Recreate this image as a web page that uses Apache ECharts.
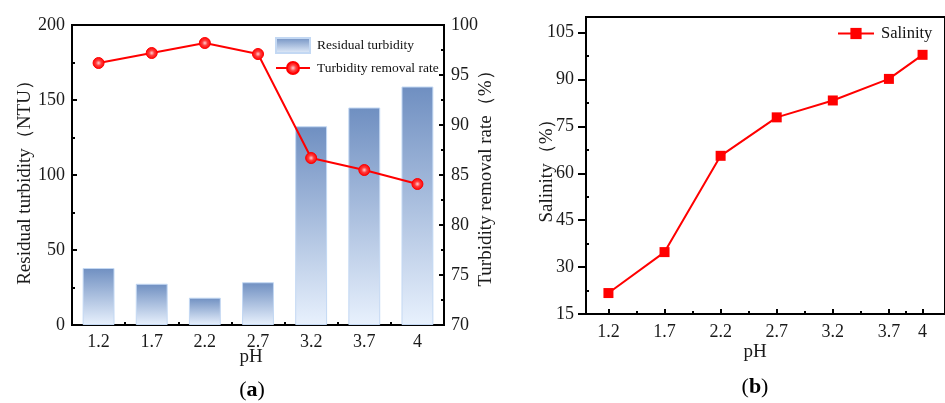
<!DOCTYPE html>
<html>
<head>
<meta charset="utf-8">
<script src="https://cdn.jsdelivr.net/npm/echarts@6/dist/echarts.min.js"></script>
<style>
html,body{margin:0;padding:0;background:#fff;}
#c{width:945px;height:403px;}
</style>
</head>
<body>
<div id="c"></div>
<script>
// ---- data ----
const phCategories = ['1.2', '1.7', '2.2', '2.7', '3.2', '3.7', '4'];
const residualTurbidity = [38, 27.5, 18.2, 28.5, 132.5, 145, 159];
const removalRate = [96.2, 97.2, 98.2, 97.1, 86.7, 85.5, 84.1];
const phValues = [1.2, 1.7, 2.2, 2.7, 3.2, 3.7, 4];
const salinity = [21.7, 34.8, 65.6, 77.9, 83.3, 90.2, 97.9];
const salinityTicks = [15, 30, 45, 60, 75, 90, 105];
const salinityMinorTicks = [22.5, 37.5, 52.5, 67.5, 82.5, 97.5];
const phMinorTicks = [1.45, 1.95, 2.45, 2.95, 3.45, 3.85];

const FONT = '"Liberation Serif", "Times New Roman", serif';
const TXT = '#1a1a1a';

const chart = echarts.init(document.getElementById('c'), null, {renderer: 'canvas'});

const axisLine = {show: true, onZero: false, lineStyle: {color: '#000', width: 2}};
const labelStyle = {fontFamily: FONT, fontSize: 18, color: TXT};

const salinityPairs = phValues.map((p, i) => [p, salinity[i]]);

const option = {
  animation: false,
  backgroundColor: '#fff',
  grid: [
    {left: 72, top: 25, width: 372, height: 300, show: true, borderColor: '#000', borderWidth: 2, containLabel: false},
    {left: 586, top: 17, width: 362, height: 297, show: true, borderColor: '#000', borderWidth: 2, containLabel: false}
  ],
  xAxis: [
    {
      type: 'category', gridIndex: 0, position: 'bottom', data: phCategories, boundaryGap: true,
      axisLine: axisLine,
      axisTick: {show: true, alignWithLabel: true, inside: true, length: 5, lineStyle: {color: '#000', width: 2}},
      axisLabel: Object.assign({margin: 8}, labelStyle),
      splitLine: {show: false}
    },
    {
      type: 'category', gridIndex: 0, position: 'bottom', data: phCategories, boundaryGap: true,
      axisLine: {show: false},
      axisTick: {show: true, alignWithLabel: false, inside: true, length: 3, lineStyle: {color: '#000', width: 2}},
      axisLabel: {show: false},
      splitLine: {show: false}
    },
    {
      type: 'value', gridIndex: 1, position: 'bottom', min: 1.0, max: 4.2,
      axisLine: axisLine,
      axisTick: {show: true, inside: true, length: 5, customValues: phValues, lineStyle: {color: '#000', width: 2}},
      axisLabel: Object.assign({margin: 9, customValues: phValues}, labelStyle),
      splitLine: {show: false}
    },
    {
      type: 'value', gridIndex: 1, position: 'bottom', min: 1.0, max: 4.2,
      axisLine: {show: false},
      axisTick: {show: true, inside: true, length: 3, customValues: phMinorTicks, lineStyle: {color: '#000', width: 2}},
      axisLabel: {show: false},
      splitLine: {show: false}
    }
  ],
  yAxis: [
    {
      type: 'value', gridIndex: 0, position: 'left', min: 0, max: 200, interval: 50,
      axisLine: axisLine,
      axisTick: {show: true, inside: true, length: 5, lineStyle: {color: '#000', width: 2}},
      minorTick: {show: true, splitNumber: 2, length: 3, lineStyle: {color: '#000', width: 2}},
      axisLabel: Object.assign({margin: 7}, labelStyle),
      splitLine: {show: false}
    },
    {
      type: 'value', gridIndex: 0, position: 'right', min: 70, max: 100, interval: 5,
      axisLine: axisLine,
      axisTick: {show: true, inside: true, length: 5, lineStyle: {color: '#000', width: 2}},
      minorTick: {show: true, splitNumber: 2, length: 3, lineStyle: {color: '#000', width: 2}},
      axisLabel: Object.assign({margin: 7}, labelStyle),
      splitLine: {show: false}
    },
    {
      type: 'value', gridIndex: 1, position: 'left', min: 15, max: 110,
      axisLine: axisLine,
      axisTick: {show: true, inside: false, length: 8, customValues: salinityTicks, lineStyle: {color: '#000', width: 2}},
      axisLabel: Object.assign({margin: 12, customValues: salinityTicks}, labelStyle),
      splitLine: {show: false}
    },
    {
      type: 'value', gridIndex: 1, position: 'left', min: 15, max: 110,
      axisLine: {show: false},
      axisTick: {show: true, inside: true, length: 3, customValues: salinityMinorTicks, lineStyle: {color: '#000', width: 2}},
      axisLabel: {show: false},
      splitLine: {show: false}
    }
  ],
  legend: [
    {
      left: 270, top: 32, orient: 'vertical', itemWidth: 34, itemHeight: 15, itemGap: 7,
      textStyle: {fontFamily: FONT, fontSize: 13.5, color: '#111', padding: [0, 0, 0, 2]},
      data: [{name: 'Residual turbidity', icon: 'rect'}, {name: 'Turbidity removal rate'}]
    },
    {
      left: 832, top: 20, itemWidth: 36, itemHeight: 14,
      textStyle: {fontFamily: FONT, fontSize: 16.5, color: '#111', padding: [0, 0, 0, 2]},
      data: ['Salinity']
    }
  ],
  series: [
    {
      name: 'Residual turbidity', type: 'bar', xAxisIndex: 0, yAxisIndex: 0,
      data: residualTurbidity, barWidth: '60%',
      itemStyle: {
        color: {type: 'linear', x: 0, y: 0, x2: 0, y2: 1, colorStops: [
          {offset: 0, color: '#6f8fc1'}, {offset: 1, color: '#e8f1fd'}
        ]},
        borderColor: '#c3d8f3', borderWidth: 1
      }
    },
    {
      name: 'Turbidity removal rate', type: 'line', xAxisIndex: 0, yAxisIndex: 1,
      data: removalRate, symbol: 'circle', symbolSize: 11,
      lineStyle: {color: '#ff0000', width: 2},
      itemStyle: {
        color: {type: 'radial', x: 0.5, y: 0.5, r: 0.5, colorStops: [
          {offset: 0, color: '#ffd0d0'}, {offset: 0.45, color: '#ff3a3a'}, {offset: 1, color: '#ff0000'}
        ]},
        borderColor: '#ff0000', borderWidth: 1
      },
      z: 5
    },
    {
      name: 'Salinity', type: 'line', xAxisIndex: 2, yAxisIndex: 2,
      data: salinityPairs, symbol: 'rect', symbolSize: 10,
      lineStyle: {color: '#ff0000', width: 2},
      itemStyle: {color: '#ff0000'},
      z: 5
    }
  ],
  graphic: [
    {type: 'text', x: 25, y: 178, rotation: Math.PI / 2,
      style: {text: 'Residual turbidity（NTU）', fontFamily: FONT, fontSize: 19, fill: TXT, align: 'center', verticalAlign: 'middle'}},
    {type: 'text', x: 486, y: 174, rotation: Math.PI / 2,
      style: {text: 'Turbidity removal rate（%）', fontFamily: FONT, fontSize: 19, fill: TXT, align: 'center', verticalAlign: 'middle'}},
    {type: 'text', x: 547, y: 166, rotation: Math.PI / 2,
      style: {text: 'Salinity（%）', fontFamily: FONT, fontSize: 19, fill: TXT, align: 'center', verticalAlign: 'middle'}},
    {type: 'text', x: 251, y: 357,
      style: {text: 'pH', fontFamily: FONT, fontSize: 19, fill: TXT, align: 'center', verticalAlign: 'middle'}},
    {type: 'text', x: 755, y: 352,
      style: {text: 'pH', fontFamily: FONT, fontSize: 19, fill: TXT, align: 'center', verticalAlign: 'middle'}},
    {type: 'text', x: 252, y: 390,
      style: {text: '{n|(}{b|a}{n|)}', align: 'center', verticalAlign: 'middle',
        rich: {n: {fontFamily: FONT, fontSize: 22, fill: '#000'}, b: {fontFamily: FONT, fontSize: 22, fontWeight: 'bold', fill: '#000'}}}},
    {type: 'text', x: 755, y: 387,
      style: {text: '{n|(}{b|b}{n|)}', align: 'center', verticalAlign: 'middle',
        rich: {n: {fontFamily: FONT, fontSize: 22, fill: '#000'}, b: {fontFamily: FONT, fontSize: 22, fontWeight: 'bold', fill: '#000'}}}}
  ]
};
chart.setOption(option);
</script>
</body>
</html>
